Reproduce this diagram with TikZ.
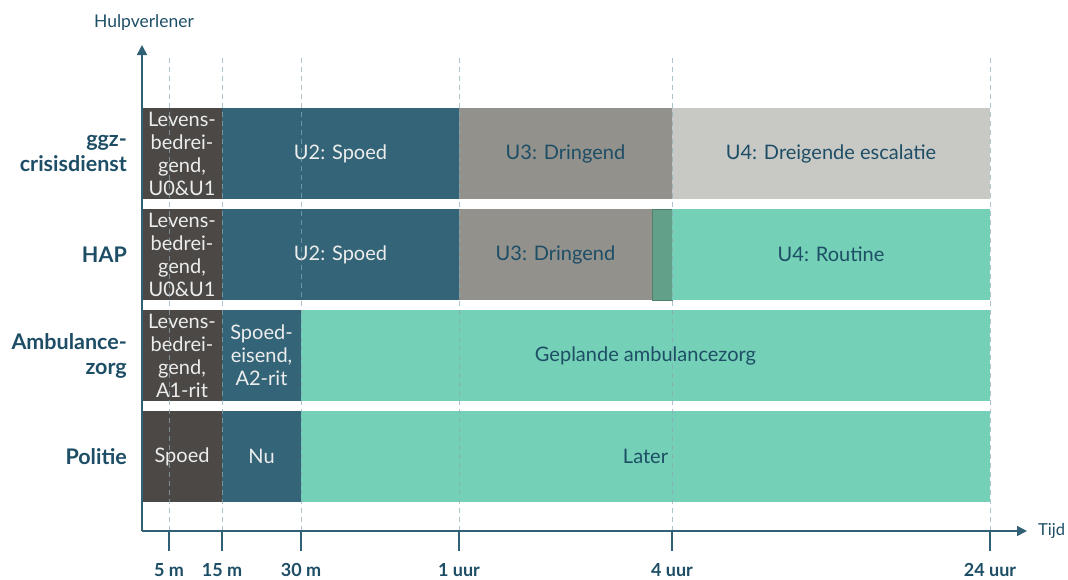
\documentclass[tikz,border=0pt]{standalone}
\usepackage{fontspec}
\setmainfont{Lato}
\usetikzlibrary{positioning,arrows.meta}

\definecolor{levens}{HTML}{4B4845}
\definecolor{spoed}{HTML}{336477}
\definecolor{dringend}{HTML}{92918C}
\definecolor{escalatie}{HTML}{C8C8C5}
\definecolor{routine}{HTML}{74D0B6}
\definecolor{overlap}{HTML}{62A08A}
\definecolor{ink}{HTML}{1D4E66}
\definecolor{axisc}{HTML}{2F6075}
\definecolor{gridc}{HTML}{8CA9B5}
\definecolor{paper}{HTML}{EDEDED}

\begin{document}
\begin{tikzpicture}[x=1pt, y=-1pt,
    seg/.style={inner sep=0pt, outer sep=0pt, minimum height=91pt, align=center,
        font=\fontsize{20}{24}\selectfont},
    small/.style={font=\fontsize{20}{23}\selectfont},
    levensbox/.style={seg, fill=levens, text=paper, minimum width=80pt},
    spoedbox/.style={seg, fill=spoed, text=paper},
    dringendbox/.style={seg, fill=dringend, text=ink},
    escalatiebox/.style={seg, fill=escalatie, text=ink},
    routinebox/.style={seg, fill=routine, text=ink},
    rowlabel/.style={align=right, text=ink, inner sep=0pt,
        font=\fontsize{21.5}{25}\selectfont\bfseries},
    axisline/.style={axisc, line width=1.6pt, -{Triangle[length=10pt, width=10pt]}},
    tickline/.style={axisc, line width=1.4pt},
    gridline/.style={gridc, line width=1pt, dash pattern=on 5pt off 4pt, opacity=0.7},
    ticklabel/.style={text=ink, inner sep=0pt, font=\fontsize{18}{20}\selectfont\bfseries},
  ]
\useasboundingbox (0,0) rectangle (1068,579);

\node[levensbox, small, anchor=north west] (ggz1) at (142,108) {Levens-\\bedrei-\\gend,\\U0\&U1};
\node[spoedbox, minimum width=237pt, right=0pt of ggz1] (ggz2) {U2: Spoed};
\node[dringendbox, minimum width=213pt, right=0pt of ggz2] (ggz3) {U3: Dringend};
\node[escalatiebox, minimum width=318pt, right=0pt of ggz3] (ggz4) {U4: Dreigende escalatie};

\node[levensbox, small, below=10pt of ggz1] (hap1) {Levens-\\bedrei-\\gend,\\U0\&U1};
\node[spoedbox, minimum width=237pt, right=0pt of hap1] (hap2) {U2: Spoed};
\node[dringendbox, minimum width=193pt, right=0pt of hap2] (hap3) {U3: Dringend};
\node[seg, fill=overlap, draw=overlap!80!black, line width=0.6pt, minimum width=20pt, right=0pt of hap3] (hap3b) {};
\node[routinebox, minimum width=318pt, right=0pt of hap3b] (hap4) {U4: Routine};

\node[levensbox, small, below=10pt of hap1] (amb1) {Levens-\\bedrei-\\gend,\\A1-rit};
\node[spoedbox, small, minimum width=79pt, right=0pt of amb1] (amb2) {Spoed-\\eisend,\\A2-rit};
\node[routinebox, minimum width=689pt, right=0pt of amb2] (amb3) {Geplande ambulancezorg};

\node[levensbox, below=10pt of amb1] (pol1) {Spoed};
\node[spoedbox, minimum width=79pt, right=0pt of pol1] (pol2) {Nu};
\node[routinebox, minimum width=689pt, right=0pt of pol2] (pol3) {Later};

\node[rowlabel, left=15pt of ggz1] (lggz) {ggz-\\crisisdienst};
\node[rowlabel, left=15pt of hap1] (lhap) {HAP};
\node[rowlabel, left=15pt of amb1] (lamb) {Ambulance-\\zorg};
\node[rowlabel, left=15pt of pol1] (lpol) {Politie};

\coordinate (o) at (142,531);
\coordinate (ytop) at (142,45);
\coordinate (xend) at (1027,531);

\foreach \x/\n/\t in {169/t1/5 m, 222/t2/15 m, 301/t3/30 m, 459/t4/1 uur, 672/t5/4 uur, 990/t6/24 uur} {
  \coordinate (\n) at (\x,531);
  \draw[gridline] (\n) -- ++(0,-474);
  \draw[tickline] (\n) -- ++(0,20) node[ticklabel, below=12pt] {\t};
}

\draw[axisline] (o) -- (ytop);
\draw[axisline] (o) -- (xend);

\node[text=ink, font=\fontsize{17.5}{20}\selectfont] (yname) at (144,23) {Hulpverlener};
\node[text=ink, inner sep=0pt, font=\fontsize{16.5}{20}\selectfont, right=11pt of xend] (xname) {Tijd};
\end{tikzpicture}
\end{document}
